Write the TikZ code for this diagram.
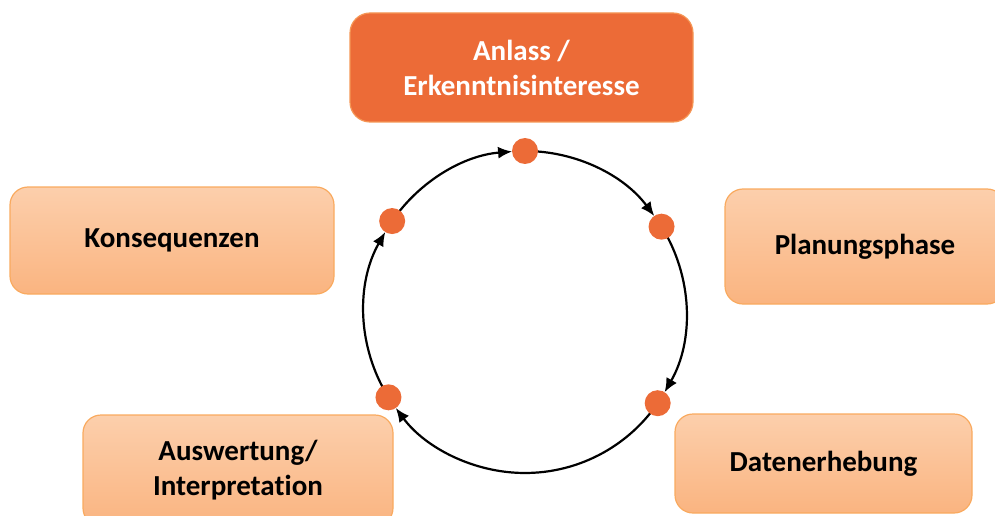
\documentclass[tikz,border=0pt]{standalone}
\usepackage{fontspec}
\setmainfont{Carlito}[Ligatures=NoCommon]
\usetikzlibrary{arrows.meta,backgrounds,calc}
\definecolor{dorange}{RGB}{236,107,55}
\definecolor{dborder}{RGB}{245,150,85}
\definecolor{ltop}{RGB}{252,207,172}
\definecolor{lbot}{RGB}{250,180,128}
\definecolor{lborder}{RGB}{249,170,95}
\begin{document}
\begin{tikzpicture}[x=1pt,y=1pt,
  phasebox/.style={rounded corners=18pt, top color=ltop, bottom color=lbot,
    draw=lborder, line width=1.2pt, font=\fontsize{29}{35}\selectfont\bfseries,
    text=black, align=center, inner sep=0pt},
  mainbox/.style={rounded corners=20pt, fill=dorange, draw=dborder, line width=1.2pt,
    font=\fontsize{29}{35}\selectfont\bfseries, text=white, align=center, inner sep=0pt},
  cycdot/.style={circle, fill=dorange, minimum size=26pt, inner sep=0pt},
  cycarc/.style={line width=2.2pt, -{Latex[length=14pt,width=12pt]}}]
\useasboundingbox (0,0) rectangle (995,515);
\clip (0,0) rectangle (995,515);
% boxes
\node[mainbox, minimum width=343pt, minimum height=109pt] (anlass) at (521.5,447.5) {Anlass /\\Erkenntnisinteresse};
\node[phasebox, minimum width=324pt, minimum height=107pt] (kons) at (172,274.5) {Konsequenzen};
\node[phasebox, minimum width=280pt, minimum height=115pt] (plan) at (865,268.5) {Planungsphase};
\node[phasebox, minimum width=297pt, minimum height=99pt] (daten) at (823.5,51.5) {Datenerhebung};
\node[phasebox, minimum width=310pt, minimum height=111pt] (ausw) at (238,44.5) {Auswertung/\\Interpretation};
% cycle
\coordinate (c) at (525,203);
\node[cycdot] (dtop) at ($(c)+(90:161)$) {};
\node[cycdot] (dright) at ($(c)+(32:161)$) {};
\node[cycdot] (dlowr) at ($(c)+(-34.5:161)$) {};
\node[cycdot] (dlowl) at ($(c)+(212:161)$) {};
\node[cycdot] (dleft) at ($(c)+(145.6:161)$) {};
\begin{pgfonlayer}{background}
\draw[cycarc] (dleft.center) arc[start angle=145.6, end angle=94.6, radius=161];
\draw[cycarc] (dtop.center) arc[start angle=90, end angle=36.6, radius=161];
\draw[cycarc] (dright.center) arc[start angle=32, end angle=-29.9, radius=161];
\draw[cycarc] (dlowr.center) arc[start angle=-34.5, end angle=-143.4, radius=161];
\draw[cycarc] (dlowl.center) arc[start angle=212, end angle=150.2, radius=161];
\end{pgfonlayer}
\end{tikzpicture}
\end{document}
